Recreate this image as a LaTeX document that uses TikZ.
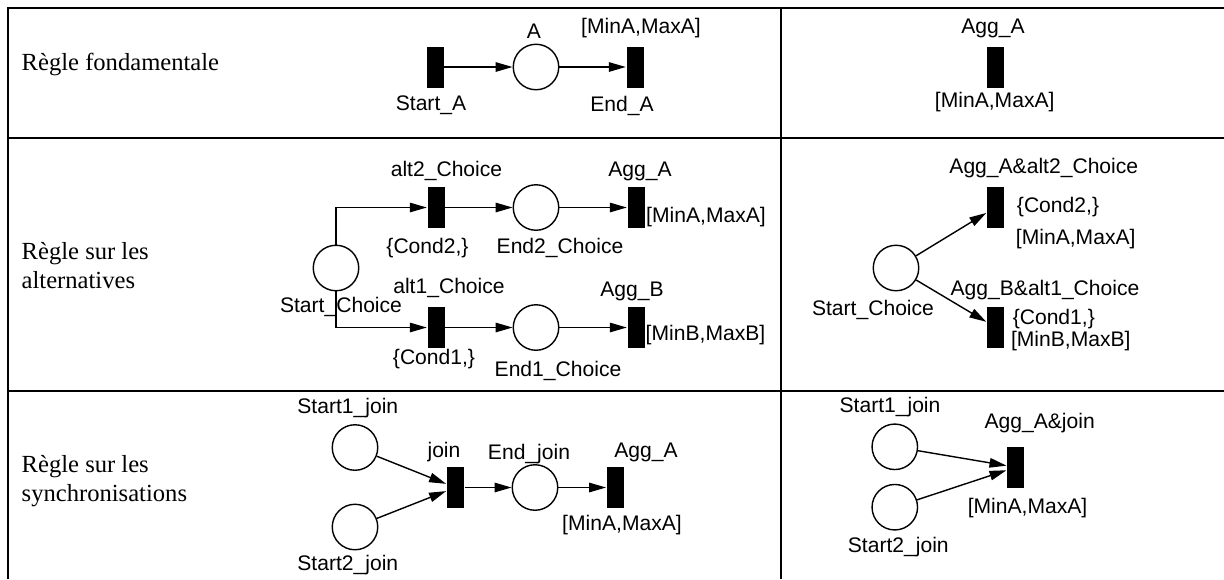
\documentclass[tikz,border=0pt]{standalone}
\usepackage{fontspec}
\setmainfont{Liberation Serif}
\newfontfamily\petrifont{Liberation Sans}
\usetikzlibrary{arrows.meta}

\begin{document}
\begin{tikzpicture}[x=0.2mm, y=-0.2mm, line width=0.8pt,
  every node/.style={font=\petrifont\fontsize{12}{14}\selectfont},
  pnode/.style={circle, draw, minimum size=9.1mm, inner sep=0pt},
  tnode/.style={rectangle, fill=black, minimum width=3.4mm, minimum height=8.2mm, inner sep=0pt},
  lbl/.style={anchor=base, inner sep=0pt},
  rowtxt/.style={anchor=base west, align=left, inner sep=0pt, font=\fontsize{14}{16}\selectfont},
  arc/.style={-{Triangle[length=3.4mm, width=1.9mm]}}]
\useasboundingbox (0,0) rectangle (1224,579);
% table
\draw[line width=1.1pt] (8,579) -- (8,8) -- (1224,8);
\draw[line width=1.1pt] (8,138) -- (1224,138);
\draw[line width=1.1pt] (8,391) -- (1224,391);
\draw[line width=1.1pt] (781,8) -- (781,579);
\node[rowtxt] (row1) at (21,70.7) {Règle fondamentale};
\node[rowtxt] (row2) at (21,288) {Règle sur les\\alternatives};
\node[rowtxt] (row3) at (21,501) {Règle sur les\\synchronisations};

% row 1
\node[tnode] (startA) at (435,67) {};
\node[pnode] (A) at (536,67) {};
\node[tnode] (endA) at (635,67) {};
\draw[arc] (startA) -- (A);
\draw[arc] (A) -- (endA);
\node[lbl] (tA) at (534,38) {A};
\node[lbl] (tIntA) at (641,33) {[MinA,MaxA]};
\node[lbl] (tStartA) at (431,110) {Start\_A};
\node[lbl] (tEndA) at (622,111.5) {End\_A};
\node[tnode] (aggA1) at (995.7,67) {};
\node[lbl] (tAggA1) at (993,33.3) {Agg\_A};
\node[lbl] (tIntA1) at (994.7,107) {[MinA,MaxA]};

% row 2
\node[pnode] (sc) at (336,268) {};
\node[tnode] (alt2) at (436,207.5) {};
\node[pnode] (end2) at (536,207.5) {};
\node[tnode] (aggA) at (636,207.5) {};
\node[tnode] (alt1) at (436,327.5) {};
\node[pnode] (end1) at (536,327.5) {};
\node[tnode] (aggB) at (636,327.5) {};
\draw[arc] (sc.north) |- (alt2);
\draw[arc] (sc.south) |- (alt1);
\draw[arc] (alt2) -- (end2);
\draw[arc] (end2) -- (aggA);
\draw[arc] (alt1) -- (end1);
\draw[arc] (end1) -- (aggB);
\node[lbl] (tAlt2) at (446.5,176.7) {alt2\_Choice};
\node[lbl] (tCond2) at (427.5,253.5) {\{Cond2,\}};
\node[lbl] (tEnd2) at (560,253.5) {End2\_Choice};
\node[lbl] (tAggA) at (640,176.7) {Agg\_A};
\node[lbl] (tIntA2) at (706,222.7) {[MinA,MaxA]};
\node[lbl] (tAlt1) at (449,293.3) {alt1\_Choice};
\node[lbl] (tSc) at (341,312.7) {Start\_Choice};
\node[lbl] (tAggB) at (632,296.7) {Agg\_B};
\node[lbl] (tIntB2) at (705.5,340) {[MinB,MaxB]};
\node[lbl] (tCond1) at (434,364) {\{Cond1,\}};
\node[lbl] (tEnd1) at (558,376.7) {End1\_Choice};

\node[pnode] (scb) at (896,268) {};
\node[tnode] (aggAalt2) at (995.5,207.3) {};
\node[tnode] (aggBalt1) at (995.5,327.3) {};
\draw[arc] (scb) -- (aggAalt2);
\draw[arc] (scb) -- (aggBalt1);
\node[lbl] (tAggAalt2) at (1043.8,173.3) {Agg\_A\&alt2\_Choice};
\node[lbl] (tCond2b) at (1058,212.7) {\{Cond2,\}};
\node[lbl] (tIntAb) at (1075.7,244.3) {[MinA,MaxA]};
\node[lbl] (tAggBalt1) at (1045,295.7) {Agg\_B\&alt1\_Choice};
\node[lbl] (tCond1b) at (1053.8,324.3) {\{Cond1,\}};
\node[lbl] (tIntBb) at (1070.8,346) {[MinB,MaxB]};
\node[lbl] (tScb) at (873,315.3) {Start\_Choice};

% row 3
\node[pnode] (start1) at (355,447.5) {};
\node[pnode] (start2) at (355,527) {};
\node[tnode] (join) at (455.3,487.5) {};
\node[pnode] (endjoin) at (535,487.5) {};
\node[tnode] (aggA3) at (615.3,487.5) {};
\draw[arc] (start1) -- (join);
\draw[arc] (start2) -- (join);
\draw[arc] (join) -- (endjoin);
\draw[arc] (endjoin) -- (aggA3);
\node[lbl] (tStart1) at (347.8,413.3) {Start1\_join};
\node[lbl] (tJoin) at (444,457.3) {join};
\node[lbl] (tEndJoin) at (529,459.3) {End\_join};
\node[lbl] (tAggA3) at (646,457.3) {Agg\_A};
\node[lbl] (tIntA3) at (622,530) {[MinA,MaxA]};
\node[lbl] (tStart2) at (347.8,570) {Start2\_join};

\node[pnode] (start1b) at (894.8,446.8) {};
\node[pnode] (start2b) at (894.8,507.2) {};
\node[tnode] (aggjoin) at (1015.7,467.2) {};
\draw[arc] (start1b) -- (aggjoin);
\draw[arc] (start2b) -- (aggjoin);
\node[lbl] (tStart1b) at (890,412.3) {Start1\_join};
\node[lbl] (tAggjoin) at (1039.7,428.3) {Agg\_A\&join};
\node[lbl] (tIntA3b) at (1027.5,513.3) {[MinA,MaxA]};
\node[lbl] (tStart2b) at (898.3,552.7) {Start2\_join};
\end{tikzpicture}
\end{document}
